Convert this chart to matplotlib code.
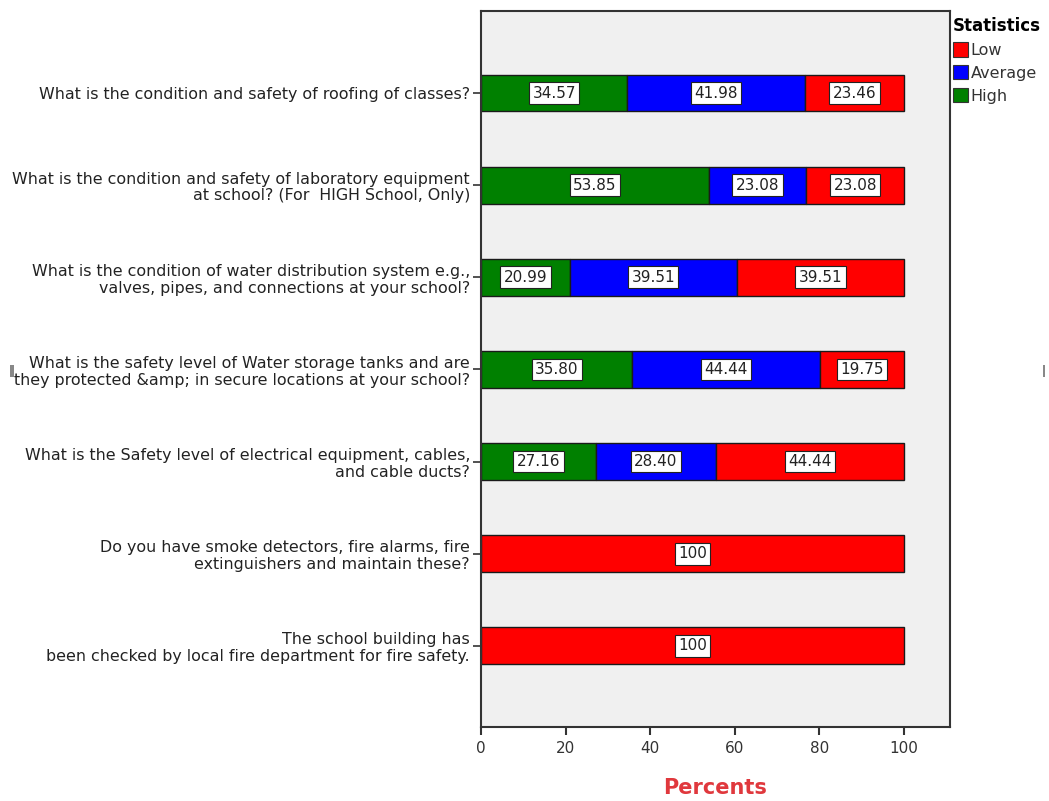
import matplotlib
matplotlib.use("Agg")
import matplotlib.pyplot as plt
from matplotlib.patches import Patch, Rectangle

plt.rcParams['font.family'] = ['DejaVu Sans']

questions = [
    "What is the condition and safety of roofing of classes?",
    "What is the condition and safety of laboratory equipment\nat school? (For  HIGH School, Only)",
    "What is the condition of water distribution system e.g.,\nvalves, pipes, and connections at your school?",
    "What is the safety level of Water storage tanks and are\nthey protected &amp; in secure locations at your school?",
    "What is the Safety level of electrical equipment, cables,\nand cable ducts?",
    "Do you have smoke detectors, fire alarms, fire\nextinguishers and maintain these?",
    "The school building has\nbeen checked by local fire department for fire safety.",
]
high = [34.57, 53.85, 20.99, 35.80, 27.16, 0, 0]
average = [41.98, 23.08, 39.51, 44.44, 28.40, 0, 0]
low = [23.46, 23.08, 39.51, 19.75, 44.44, 100, 100]
x_ticks = [0, 20, 40, 60, 80, 100]

colors = {"Low": "#ff0000", "Average": "#0000ff", "High": "#008000"}

fig = plt.figure(figsize=(10.49, 8.01), dpi=100)
ax = fig.add_axes([481 / 1049, 1 - 727 / 801, 469 / 1049, 716 / 801])
ax.set_facecolor("#f0f0f0")

ypos = list(range(len(questions)))


def fmt(v):
    return f"{v:.0f}" if abs(v - round(v)) < 1e-9 else f"{v:.2f}"


lefts = [0.0] * len(questions)
for name, vals in (("High", high), ("Average", average), ("Low", low)):
    ax.barh(ypos, vals, left=lefts, height=0.4, color=colors[name],
            edgecolor="#1a1a1a", linewidth=1.0, zorder=2)
    for y, v, l in zip(ypos, vals, lefts):
        if v > 0:
            ax.text(l + v / 2, y, fmt(v), ha="center", va="center",
                    fontsize=11, color="#222222", zorder=4,
                    bbox=dict(boxstyle="square,pad=0.22", fc="white",
                              ec="#222222", lw=0.8))
    lefts = [a + b for a, b in zip(lefts, vals)]

ax.set_xlim(0, 110.9)
ax.set_ylim(6.88, -0.89)
ax.set_xticks(x_ticks)
ax.set_xticklabels([str(t) for t in x_ticks], fontsize=11, color="#333333")
ax.set_yticks(ypos)
ax.set_yticklabels(questions, fontsize=11.4, color="#222222", linespacing=1.15)
ax.tick_params(axis="x", direction="out", length=6, width=1.5, color="#333333", pad=4)
ax.tick_params(axis="y", direction="out", length=6, width=1.2, color="#333333", pad=2)
for s in ax.spines.values():
    s.set_color("#333333")
    s.set_linewidth(1.5)

fig.text(715 / 1049, 1 - 788 / 801, "Percents", ha="center", va="center",
         fontsize=15, fontweight="bold", color="#e0383d")

handles = [Patch(facecolor=colors[k], edgecolor="#333333", lw=0.8)
           for k in ("Low", "Average", "High")]
leg = fig.legend(handles, ["Low", "Average", "High"], title="Statistics",
                 loc="upper left", bbox_to_anchor=(950 / 1049, 1 - 14 / 801),
                 frameon=False, fontsize=11.5, title_fontsize=12,
                 handlelength=0.95, handleheight=1.0, handletextpad=0.15,
                 labelspacing=0.45, borderaxespad=0, borderpad=0.2,
                 alignment="left")
leg.get_title().set_fontweight("bold")
for t in leg.get_texts():
    t.set_color("#333333")

# small stray marks at the edges of the chart area
fig.patches.append(Rectangle((10 / 1049, 1 - 377 / 801), 4 / 1049, 12 / 801,
                             transform=fig.transFigure, facecolor="#888888",
                             edgecolor="none"))
fig.patches.append(Rectangle((1043 / 1049, 1 - 377 / 801), 1.5 / 1049, 12 / 801,
                             transform=fig.transFigure, facecolor="#888888",
                             edgecolor="none"))

fig.savefig("out.png", dpi=100, facecolor="white")
